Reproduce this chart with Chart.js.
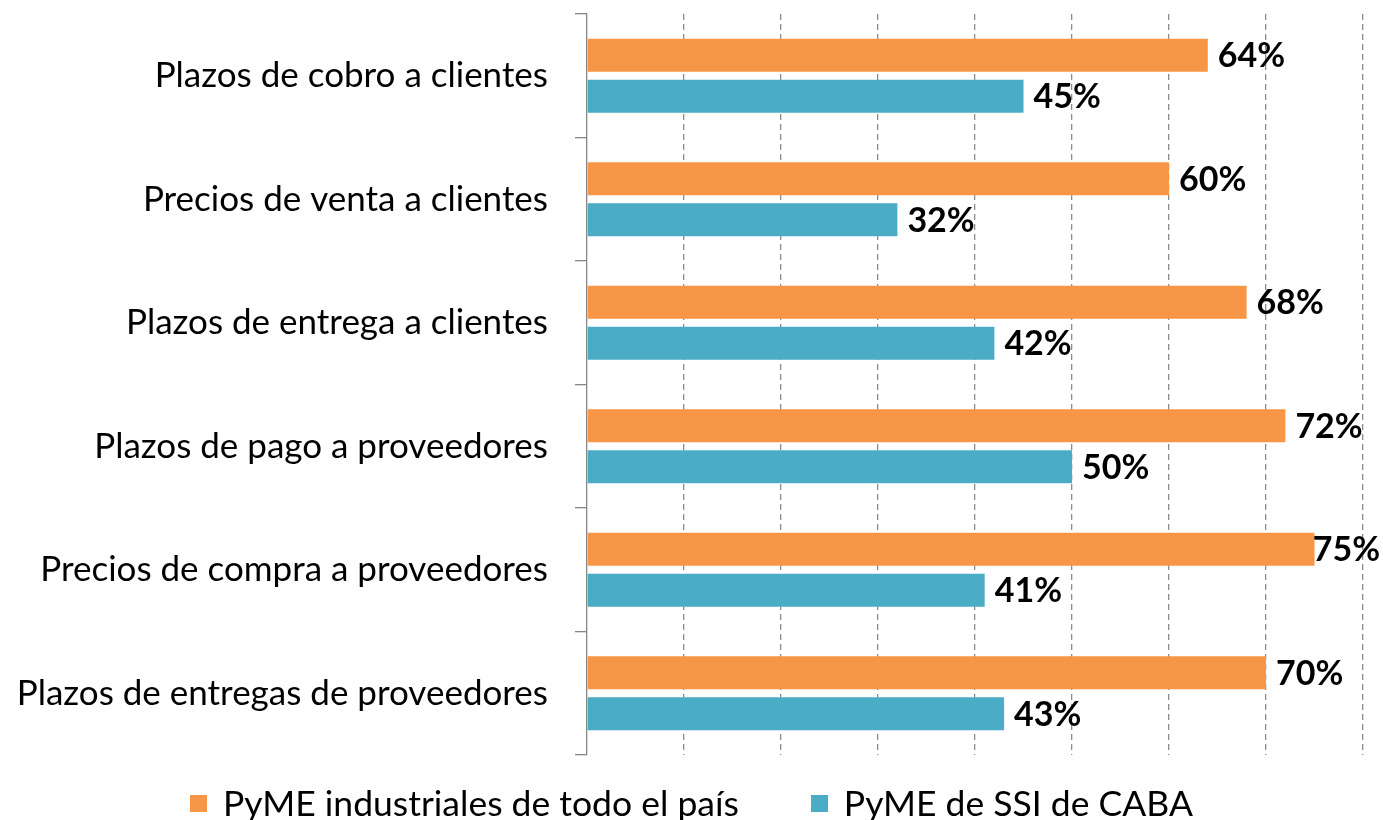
<!DOCTYPE html>
<html>
<head>
<meta charset="utf-8">
<script src="https://cdn.jsdelivr.net/npm/chart.js@4/dist/chart.umd.min.js"></script>
<style>
  html, body { margin: 0; padding: 0; background: #fff; }
  #wrap { position: relative; width: 1383px; height: 820px; }
  #legend { position: absolute; left: 0; top: 780px; width: 1383px; height: 46px; display: flex; justify-content: center;
            align-items: center; font-family: Lato, sans-serif; font-size: 35.5px; line-height: 46px; color: #000; }
  .item { display: flex; align-items: center; }
  .item + .item { margin-left: 72px; }
  .sw { width: 17px; height: 17px; margin-right: 16px; display: inline-block; }
</style>
</head>
<body>
<div id="wrap">
  <canvas id="c" width="1383" height="820"></canvas>
  <div id="legend"></div>
</div>
<script>
const categories = [
  'Plazos de cobro a clientes',
  'Precios de venta a clientes',
  'Plazos de entrega a clientes',
  'Plazos de pago a proveedores',
  'Precios de compra a proveedores',
  'Plazos de entregas de proveedores'
];
const seriesNames = ['PyME industriales de todo el país', 'PyME de SSI de CABA'];
const pymeNacional = [64, 60, 68, 72, 75, 70];
const pymeCaba = [45, 32, 42, 50, 41, 43];
const seriesColors = ['#F79646', '#4BACC6'];

const FONT = 'Lato, sans-serif';

const labelPlugin = {
  id: 'valueLabels',
  afterDatasetsDraw(chart) {
    const ctx = chart.ctx;
    ctx.save();
    ctx.font = 'bold 34px ' + FONT;
    ctx.fillStyle = '#000';
    ctx.textBaseline = 'middle';
    ctx.textAlign = 'left';
    chart.data.datasets.forEach((ds, di) => {
      const meta = chart.getDatasetMeta(di);
      meta.data.forEach((bar, i) => {
        const txt = ds.data[i] + '%';
        const w = ctx.measureText(txt).width;
        let x = bar.x + 10;
        if (x + w > chart.width - 3) x = chart.width - 3 - w;
        ctx.fillText(txt, x, bar.y + 1);
      });
    });
    ctx.restore();
  }
};

const chart = new Chart(document.getElementById('c'), {
  type: 'bar',
  data: {
    labels: categories,
    datasets: [
      { label: seriesNames[0], data: pymeNacional, backgroundColor: seriesColors[0] },
      { label: seriesNames[1], data: pymeCaba, backgroundColor: seriesColors[1] }
    ]
  },
  options: {
    indexAxis: 'y',
    responsive: false,
    animation: false,
    categoryPercentage: 0.667,
    barPercentage: 0.8,
    layout: { padding: { left: 0, right: 20, top: 14, bottom: 65 } },
    plugins: {
      legend: { display: false },
      tooltip: { enabled: false }
    },
    scales: {
      x: {
        min: 0, max: 80,
        ticks: { display: false, stepSize: 10 },
        grid: {
          drawTicks: false,
          color: (c) => c.tick && c.tick.value === 0 ? 'rgba(0,0,0,0)' : '#8c8c8c',
          lineWidth: 1.3
        },
        border: { display: false, dash: [6, 4] }
      },
      y: {
        afterFit(scale) { scale.width = 587; scale.paddingTop = 0; scale.paddingBottom = 0; },
        ticks: { color: '#000', font: { family: FONT, size: 35 }, padding: 27 },
        grid: { drawOnChartArea: false, drawTicks: true, tickLength: 12, color: '#868686', lineWidth: 1.3 },
        border: { display: true, color: '#868686', width: 1.3 }
      }
    }
  },
  plugins: [labelPlugin]
});

const legend = document.getElementById('legend');
seriesNames.forEach((n, i) => {
  const it = document.createElement('div');
  it.className = 'item';
  const sw = document.createElement('span');
  sw.className = 'sw';
  sw.style.background = seriesColors[i];
  const t = document.createElement('span');
  t.textContent = n;
  it.appendChild(sw); it.appendChild(t);
  legend.appendChild(it);
});
</script>
</body>
</html>
